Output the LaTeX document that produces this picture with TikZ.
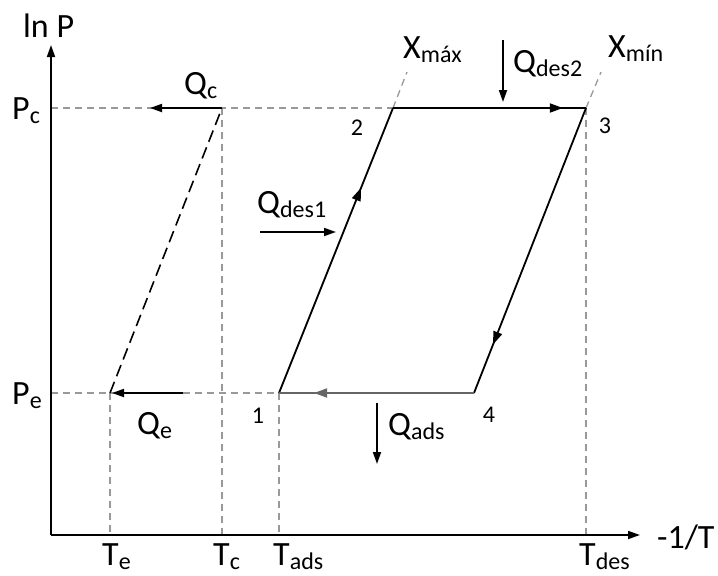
\documentclass[tikz,border=0pt]{standalone}
\usepackage{fontspec}
\setmainfont{Carlito}
\usetikzlibrary{arrows.meta,decorations.markings}
\newcommand\sbs[1]{\raisebox{-4pt}{\fontsize{24}{24}\selectfont #1}}
\begin{document}
\begin{tikzpicture}[x=1pt,y=-1pt,
 lbl/.style={font=\fontsize{34}{34}\selectfont, inner sep=0pt, anchor=base west},
 num/.style={font=\fontsize{24}{24}\selectfont, inner sep=0pt},
 guide/.style={draw=black!40, dash pattern=on 7pt off 5pt, line width=1.3pt},
 tip/.style={-{Triangle[length=12pt,width=8pt]}},
 axis/.style={line width=1.8pt, tip},
 heat/.style={line width=1.8pt, tip},
 cyc/.style={line width=1.8pt},
 midarrow/.style={postaction={decorate, decoration={markings, mark=at position #1 with {\arrow{Triangle[length=13pt,width=9pt]}}}}}
]
\useasboundingbox (0,0) rectangle (718,576);
% key points
\coordinate (O) at (51,535);
\coordinate (ytop) at (51,45);
\coordinate (xend) at (640,535);
\coordinate (pc0) at (51,108);
\coordinate (pe0) at (51,393);
\coordinate (C) at (222,108);
\coordinate (E) at (110,393);
\coordinate (p1) at (279,393);
\coordinate (p2) at (393,108);
\coordinate (p3) at (586,108);
\coordinate (p4) at (474,393);
\coordinate (x2) at (407,72);
\coordinate (x3) at (601,72);
\coordinate (teb) at (110,535);
\coordinate (tcb) at (222,535);
\coordinate (tab) at (279,535);
\coordinate (tdb) at (586,535);
% guides
\draw[guide] (pc0) -- (p2);
\draw[guide] (pe0) -- (p1);
\draw[guide] (C) -- (tcb);
\draw[guide] (E) -- (teb);
\draw[guide] (p1) -- (tab);
\draw[guide] (p3) -- (tdb);
\draw[guide] (p2) -- (x2);
\draw[guide] (p3) -- (x3);
% axes
\draw[axis] (O) -- (ytop);
\draw[axis] (O) -- (xend);
% condenser-evaporator line
\draw[line width=1.6pt, dash pattern=on 12pt off 6pt] (E) -- (C);
% cycle
\draw[cyc, midarrow=0.72] (p1) -- (p2);
\draw[cyc, midarrow=0.88] (p2) -- (p3);
\draw[cyc, midarrow=0.83] (p3) -- (p4);
\draw[cyc, draw=black!60, midarrow=0.82] (p4) -- (p1);
% heat arrows
\coordinate (qcend) at (150,108);
\draw[heat] (C) -- (qcend);
\coordinate (qes) at (183,393);
\coordinate (qee) at (112,393);
\draw[heat] (qes) -- (qee);
\coordinate (qd1s) at (260,232);
\coordinate (qd1e) at (336,232);
\draw[heat] (qd1s) -- (qd1e);
\coordinate (qd2s) at (503,40);
\coordinate (qd2e) at (503,102);
\draw[heat] (qd2s) -- (qd2e);
\coordinate (qas) at (377,403);
\coordinate (qae) at (377,464);
\draw[heat] (qas) -- (qae);
% labels
\node[lbl] (lnP) at (23,37) {ln P};
\node[lbl] (Pc) at (12,119) {P\sbs{c}};
\node[lbl] (Pe) at (12,404) {P\sbs{e}};
\node[lbl] (Qc) at (184,94) {Q\sbs{c}};
\node[lbl] (Qe) at (137,434) {Q\sbs{e}};
\node[lbl] (Qd1) at (257,213) {Q\sbs{des1}};
\node[lbl] (Qd2) at (513,72) {Q\sbs{des2}};
\node[lbl] (Qa) at (388,435) {Q\sbs{ads}};
\node[lbl] (Xmax) at (403,58) {X\sbs{máx}};
\node[lbl] (Xmin) at (608,57) {X\sbs{mín}};
\node[lbl] (Te) at (102,565) {T\sbs{e}};
\node[lbl] (Tc) at (213,565) {T\sbs{c}};
\node[lbl] (Ta) at (273,565) {T\sbs{ads}};
\node[lbl] (Td) at (579,565) {T\sbs{des}};
\node[lbl] (invT) at (657,548) {-1/T};
\node[num] (n1) at (258,416) {1};
\node[num] (n2) at (357,128) {2};
\node[num] (n3) at (605,126) {3};
\node[num] (n4) at (489,415) {4};
\end{tikzpicture}
\end{document}
